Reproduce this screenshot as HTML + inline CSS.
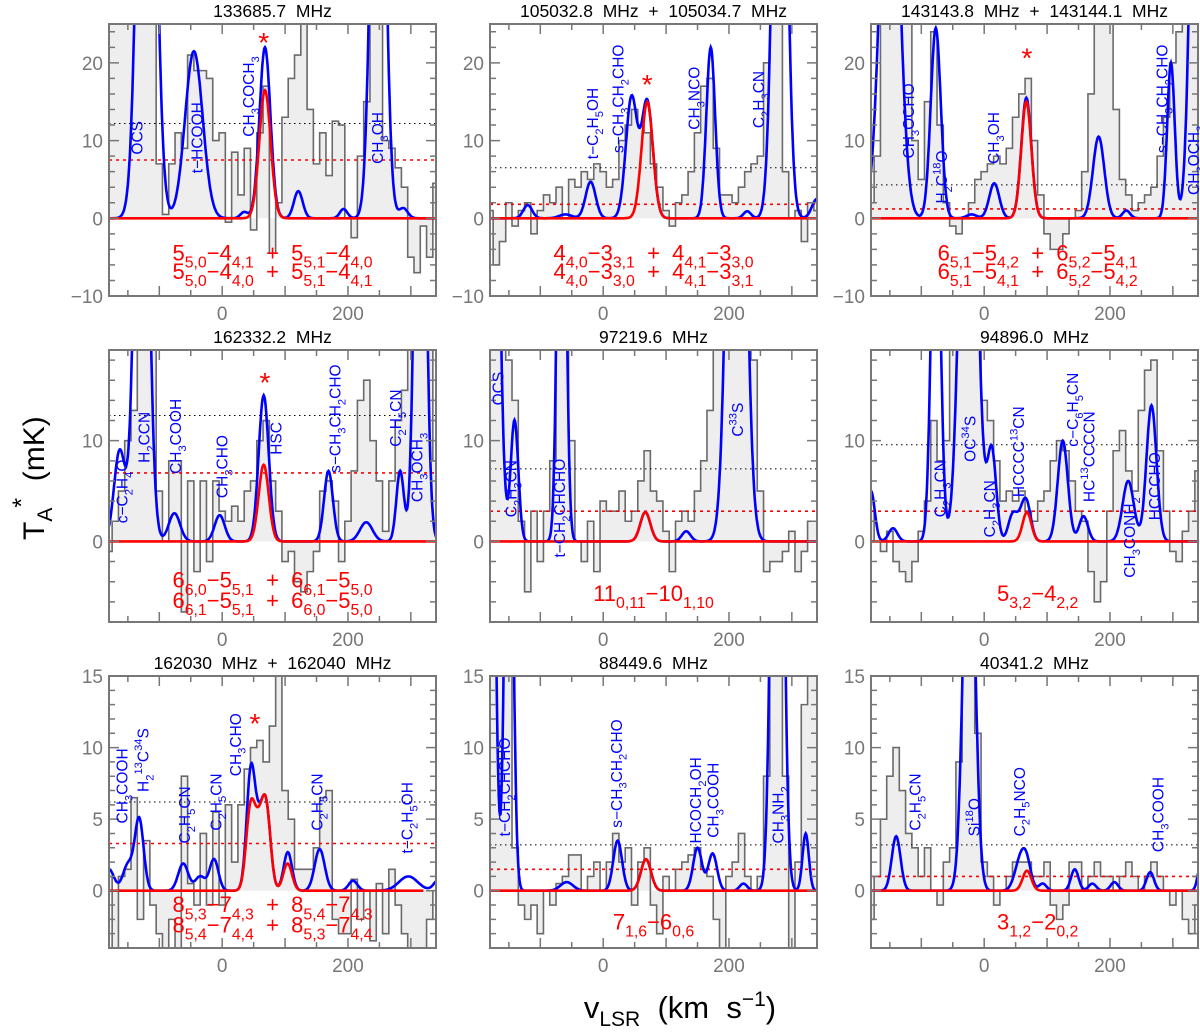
<!DOCTYPE html>
<html><head><meta charset="utf-8">
<style>
html,body{margin:0;padding:0;background:#fff;}
svg{display:block;font-family:"Liberation Sans",sans-serif;}
svg text{white-space:pre;}
</style></head>
<body>
<svg id="fig" width="1200" height="1033" viewBox="0 0 1200 1033" xmlns="http://www.w3.org/2000/svg">
<text transform="rotate(-90 44 540)" x="44" y="540" font-size="30" fill="#000">T<tspan font-size="21" dy="8">A</tspan><tspan font-size="25" dy="-22">*</tspan><tspan dy="14">  (mK)</tspan></text>
<text x="680" y="1018" text-anchor="middle" font-size="31" fill="#000">v<tspan font-size="21" dy="8">LSR</tspan><tspan dy="-8">  (km  s</tspan><tspan font-size="21" dy="-12">−1</tspan><tspan dy="12">)</tspan></text>
</svg>
<script>
// ---------- data ----------
const titles = ["133685.7  MHz","105032.8  MHz  +  105034.7  MHz","143143.8  MHz  +  143144.1  MHz","162332.2  MHz","97219.6  MHz","94896.0  MHz","162030  MHz  +  162040  MHz","88449.6  MHz","40341.2  MHz"];
const histStart = -180;
const histStep = 10;
const hist1 = [30,30,30,30,30,30,30,30,7,0.5,7,11,9,21,19,19,18,10,11,-0.5,8.5,3,9,-1.5,11,17,-4.5,2,13,18,21,25,14,7,11,5.5,12.5,12,0,-2.5,8,15,27,27,10,9,6.5,4,-5,-7,-1,-5,4.5];
const hist2 = [1,-6,-3,2,-1,1,2,-2,1,3,2,4,0,5,4,6,5,7,6,4,5,10,12,14,12,11,7,4,1,-1,2,3,6,11,17,18,9,3,3,2,4,6,7,8,20,30,30,6,0,1,-3,2,1];
const hist3 = [2,8,25,30,30,30,28,10,5,15,24,12,2,-1,-2,0,2,5,6,7,8,7,9,13,16,18,10,3,-2,-4,-4,-2,0,1,6,16,30,30,30,14,5,3,1,2,3,4,8,13,20,24,30,30,30];
const hist4 = [-1,2,5,10,13,30,30,20,5,0,8,8,-7,6,-3,6,-2,6,3,2,3.5,2,5,6,10,12,6,3,-2,-1,-4,-5,-3,-1,5,6,4,-2,2,7,14,16,10,6,1,6,12,15,30,30,30,20,8];
const hist5 = [19,19,19,18,14,2,-5,3,-2,3,8,19,19,10,0,-2,2,-3,4,3,3,5,2,3,6,9,5,4,1,-3,2,3,2,5,8,13,19,19,19,19,19,19,18,5,-3,-2,-2,-1,1,-3,-1,2,2];
const hist6 = [3,0,-1,1,-2,-3,-4,-2,1,4,12,8,10,19,19,19,19,19,14,12,8,4,5,4,5,3,2,4,5,8,10,9,6,3,2,-3,-6,-4,3,9,11,7,5,13,17,18,9,3,-1,-2,1,3,7];
const hist7 = [1,-4,1,1.5,6.5,-2,3.5,-1,-3,-4,-2,-4,8,0.5,-1,4,-1,5.5,-1,6,2,6,8.5,10,10.5,9,11.5,15,7,5,1.5,1.5,1.5,3,6.5,7,-2,-3,-3,0.8,-2,0,-3.5,0.5,-3,1.5,-1,-3,-4,-4,-4,-2,0];
const hist8 = [15,15,15,15,3,-1,-2,-1,-3,0,-1,0.5,1,2.5,2.5,0,1,2,0,2,4,2,3,-1,2,3,-1,-3,1,0,1.5,2,2.5,3,1.5,1,-2,-4,1,2,4,1,0,1,8,15,15,8,-4,2,13,15,15];
const hist9 = [-2,1,5,8,10,7,4,3,1,3,0,-1,2,3,9,15,15,11,2,1,-1,0,1,2,2,2,1,1,2,-1,-2,-1,2,2,0,1,2,1,1,0,1,2,1,0,1,2,1,0,-1,0,-2,-3,-1];
// Gaussian components [centre km/s, peak mK, sigma km/s]
const red1 = [[68,16.5,9]];
const red2 = [[70,15,9]];
const red3 = [[67,15,8]];
const red4 = [[66,7.6,8]];
const red5 = [[67,2.9,8]];
const red6 = [[68,2.9,7]];
const red7 = [[45,5.6,7],[58,3.6,7],[70,5.6,7],[104,1.9,7]];
const red8 = [[68,2.2,8]];
const red9 = [[68,1.4,7]];
const blue1 = [[-120,100,12],[-45,21.5,14],[35,0.8,6],[68,5.5,8],[121,3.5,7],[193,1.2,6],[248,80,10],[288,1.3,7]];
const blue2 = [[-120,1.7,7],[-60,0.5,10],[-20,4.7,8],[45,15.5,9],[171,22,7],[229,0.9,6],[281,80,10],[340,2.5,8]];
const blue3 = [[-150,60,14],[-77,24.5,8],[-20,0.5,8],[16,4.5,8],[67,0.5,8],[182,10.5,9],[226,1,6],[297,20,6],[340,80,10]];
const blue4 = [[-163,9,9],[-128,60,10],[-76,2.8,9],[-4,2.6,8],[66,6.9,8],[169,7,7],[229,1.9,10],[283,7,6],[315,60,8]];
const blue5 = [[-180,100,10],[-141,12,6],[-66,60,6],[132,1,7],[212,80,12]];
const blue6 = [[-180,5,6],[-145,1.3,7],[-77,40,7],[-25,60,12],[12,9,7],[45,2.5,7],[60,2,8],[125,10,8],[158,2.5,7],[229,6,9],[266,13.5,8]];
const blue7 = [[-180,1.5,8],[-150,1.8,8],[-132,5,7],[-62,1.9,8],[-35,1,8],[-13,2.2,7],[46,2.5,6],[105,0.8,6],[155,2.9,8],[208,0.7,7],[296,1,15],[345,0.8,8]];
const blue8 = [[-178,40,6],[-150,40,6],[-58,0.6,10],[23,3.5,7],[150,3,7],[174,2.6,7],[223,0.5,6],[277,60,8],[322,4,5]];
const blue9 = [[-140,3.8,7],[-24,30,9],[58,2.2,9],[93,0.5,6],[144,1.5,6],[172,0.5,6],[207,0.6,6],[264,1.3,6],[345,2,5]];
// threshold levels [black dotted, red dotted]
const levels = [[12.2,7.5],[6.5,1.8],[4.3,1.2],[12.5,6.8],[7.2,3.0],[9.6,3.0],[6.2,3.3],[3.2,1.5],[3.2,1.0]];
// star markers [v, T] (null = none)
const stars = [[66,23.2],[70,17.8],[68,21.2],[68,16.2],null,null,[52,12.0],null,null];
// species labels [v, T at label start, text]
const species1 = [[-136,8.2,"OCS"],[-41,5.8,"t−HCOOH"],[41,10.5,"CH_{3}COCH_{3}"],[246,7,"CH_{3}OH"]];
const species2 = [[-18,7.6,"t−C_{2}H_{5}OH"],[23,8.4,"s−CH_{3}CH_{2}CHO"],[144,11.4,"CH_{3}NCO"],[246,11.6,"C_{2}H_{3}CN"]];
const species3 = [[-121,7.7,"CH_{3}OCHO"],[-69,1.9,"H_{2}C^{18}O"],[14,7,"CH_{3}OH"],[282,8.4,"s−CH_{3}CH_{2}CHO"],[332,3,"CH_{3}OCH_{3}"]];
const species4 = [[-160,1.8,"c−C_{2}H_{4}O"],[-125,7.8,"H_{2}CCN"],[-75,6.7,"CH_{3}COOH"],[-1,4.3,"CH_{3}CHO"],[85,8.6,"HSC"],[179,6.8,"s−CH_{3}CH_{2}CHO"],[275,9.4,"C_{2}H_{5}CN"],[309,3.9,"CH_{3}OCH_{3}"]];
const species5 = [[-168,13.5,"OCS"],[-147,2.4,"C_{2}H_{3}CN"],[-70,-1.6,"t−CH_{2}CHCHO"],[213,10.4,"C^{33}S"]];
const species6 = [[-71,2.4,"C_{2}H_{3}CN"],[-23,7.9,"OC^{34}S"],[8,0.4,"C_{2}H_{3}CN"],[54,4.4,"HCCCC^{13}CN"],[140,9.4,"c−C_{6}H_{5}CN"],[166,3.9,"HC^{13}CCCCN"],[230,-3.6,"CH_{3}CONH_{2}"],[270,2.1,"HCCCHO"]];
const species7 = [[-160,4.7,"CH_{3}COOH"],[-127,6.9,"H_{2}^{13}C^{34}S"],[-61,3.3,"C_{2}H_{5}CN"],[-11,4.2,"C_{2}H_{5}CN"],[20,8,"CH_{3}CHO"],[150,4.2,"C_{2}H_{5}CN"],[293,2.6,"t−C_{2}H_{5}OH"]];
const species8 = [[-158,3.8,"t−CH_{2}CHCHO"],[20,4.4,"s−CH_{3}CH_{2}CHO"],[146,3.3,"HCOCH_{2}OH"],[174,3.7,"CH_{3}COOH"],[277,3.3,"CH_{3}NH_{2}"]];
const species9 = [[-111,4.2,"C_{2}H_{5}CN"],[-17,3.8,"Si^{18}O"],[55,3.8,"C_{2}H_{5}NCO"],[276,2.7,"CH_{3}COOH"]];
// transition labels [v centre, T baseline, text]
const trans1 = [[80,-5.4,"5_{5,0}−4_{4,1}  +  5_{5,1}−4_{4,0}"],[80,-7.8,"5_{5,0}−4_{4,0}  +  5_{5,1}−4_{4,1}"]];
const trans2 = [[80,-5.4,"4_{4,0}−3_{3,1}  +  4_{4,1}−3_{3,0}"],[80,-7.8,"4_{4,0}−3_{3,0}  +  4_{4,1}−3_{3,1}"]];
const trans3 = [[85,-5.4,"6_{5,1}−5_{4,2}  +  6_{5,2}−5_{4,1}"],[85,-7.8,"6_{5,1}−5_{4,1}  +  6_{5,2}−5_{4,2}"]];
const trans4 = [[80,-4.6,"6_{6,0}−5_{5,1}  +  6_{6,1}−5_{5,0}"],[80,-6.6,"6_{6,1}−5_{5,1}  +  6_{6,0}−5_{5,0}"]];
const trans5 = [[80,-5.9,"11_{0,11}−10_{1,10}"]];
const trans6 = [[85,-5.9,"5_{3,2}−4_{2,2}"]];
const trans7 = [[80,-1.5,"8_{5,3}−7_{4,3}  +  8_{5,4}−7_{4,3}"],[80,-2.9,"8_{5,4}−7_{4,4}  +  8_{5,3}−7_{4,4}"]];
const trans8 = [[80,-2.7,"7_{1,6}−6_{0,6}"]];
const trans9 = [[85,-2.7,"3_{1,2}−2_{0,2}"]];

const hists=[hist1,hist2,hist3,hist4,hist5,hist6,hist7,hist8,hist9];
const reds=[red1,red2,red3,red4,red5,red6,red7,red8,red9];
const blues=[blue1,blue2,blue3,blue4,blue5,blue6,blue7,blue8,blue9];
const species=[species1,species2,species3,species4,species5,species6,species7,species8,species9];
const trans=[trans1,trans2,trans3,trans4,trans5,trans6,trans7,trans8,trans9];

// ---------- layout ----------
const NS="http://www.w3.org/2000/svg";
const svg=document.getElementById('fig');
const colX=[109,490,871], rowY=[24,350,676], PW=327, PH=272;
const xMin=-180, xMax=340;
const yRanges=[[-10,25],[-8,19],[-4,15]];
const yTicks=[{lab:[-10,0,10,20],minor:2,major:10},{lab:[0,10],minor:2,major:10},{lab:[0,5,10,15],minor:1,major:5}];

function el(tag,attrs,parent){const e=document.createElementNS(NS,tag);for(const k in attrs)e.setAttribute(k,attrs[k]);(parent||svg).appendChild(e);return e;}
function gauss(list,v){let s=0;for(const g of list)s+=g[1]*Math.exp(-((v-g[0])**2)/(2*g[2]*g[2]));return s;}
function richText(t,parent,baseSize){
  const re=/([_^])\{([^}]*)\}|([^_^]+)/g;let m;let shift=0;
  while((m=re.exec(t))){
    const ts=document.createElementNS(NS,'tspan');
    if(m[3]!==undefined){ts.textContent=m[3];ts.setAttribute('dy',-shift);shift=0;}
    else{const d=m[1]==='_'?baseSize*0.32:-baseSize*0.42;ts.textContent=m[2];ts.setAttribute('font-size',baseSize*0.72);ts.setAttribute('dy',d-shift);shift=d;}
    parent.appendChild(ts);
  }
}

for(let p=0;p<9;p++){
  const r=Math.floor(p/3),c=p%3;
  const L=colX[c],T=rowY[r],B=T+PH,R=L+PW;
  const [y0,y1]=yRanges[r];
  const sx=v=>L+(v-xMin)/(xMax-xMin)*PW;
  const sy=t=>B-(t-y0)/(y1-y0)*PH;
  const g=el('g',{});
  
  
  const cp=el('clipPath',{id:'cp'+p},g);el('rect',{x:L,y:T,width:PW,height:PH},cp);
  const title=el('text',{x:L+PW/2,y:T-7,'text-anchor':'middle','font-size':17.5,fill:'#000'},g);
  
  
  title.textContent=titles[p];
  const plot=el('g',{'clip-path':'url(#cp'+p+')'},g);
  // histogram
  const h=hists[p];let d='M'+sx(histStart-histStep/2)+','+sy(0);let ds='';
  h.forEach((val,i)=>{const v=histStart+i*histStep;const xa=sx(v-histStep/2),xb=sx(v+histStep/2),yy=sy(Math.max(y0-2,Math.min(y1+5,val)));
    d+=' L'+xa+','+yy+' L'+xb+','+yy; ds+=(i?' L':'M')+xa+','+yy+' L'+xb+','+yy;});
  d+=' L'+sx(histStart+(h.length-0.5)*histStep)+','+sy(0)+' Z';
  const hf=el('path',{d:d,fill:'#eeeeee',stroke:'none'},plot);
  
  
  const hs=el('path',{d:ds,fill:'none',stroke:'#6a6a6a','stroke-width':1.6},plot);
  
  
  // levels
  const lb=el('line',{x1:L,x2:R,y1:sy(levels[p][0]),y2:sy(levels[p][0]),stroke:'#000','stroke-width':1,'stroke-dasharray':'1.5,3.5'},plot);
  
  
  const lr=el('line',{x1:L,x2:R,y1:sy(levels[p][1]),y2:sy(levels[p][1]),stroke:'#ff0000','stroke-width':1.6,'stroke-dasharray':'3,4'},plot);
  
  
  // models
  let db='',dr='';
  const vEnd = p===6?320:xMax;
  for(let v=xMin;v<=xMax;v+=1){const tb=gauss(blues[p],v)+gauss(reds[p],v);db+=(v===xMin?'M':' L')+sx(v).toFixed(1)+','+sy(Math.min(tb,y1+10)).toFixed(1);
    if(v<=vEnd){dr+=(v===xMin?'M':' L')+sx(v).toFixed(1)+','+sy(gauss(reds[p],v)).toFixed(1);}}
  const bl=el('path',{d:db,fill:'none',stroke:'#0000ff','stroke-width':2.6},plot);
  
  
  const rl=el('path',{d:dr,fill:'none',stroke:'#ff0000','stroke-width':2.6},plot);
  
  
  // frame
  const fr=el('rect',{x:L,y:T,width:PW,height:PH,fill:'none',stroke:'#777','stroke-width':2},g);
  
  
  // ticks
  let tk='';
  for(let v=-150;v<=xMax;v+=50){const x=sx(v);const len=(v%100===0)?10:6;tk+='M'+x+','+B+' v'+(-len)+' M'+x+','+T+' v'+len+' ';}
  const yt=yTicks[r];
  for(let t=Math.ceil(y0/yt.minor)*yt.minor;t<=y1;t+=yt.minor){if(t===y0)continue;const y=sy(t);const len=(t%yt.major===0)?10:6;tk+='M'+L+','+y+' h'+len+' M'+R+','+y+' h'+(-len)+' ';}
  el('path',{d:tk,stroke:'#777','stroke-width':1.5,fill:'none'},g);
  [0,200].forEach(v=>{const t=el('text',{x:sx(v),y:B+24,'text-anchor':'middle','font-size':19,fill:'#777'},g);
    
    
    t.textContent=v;});
  yt.lab.forEach(v=>{const t=el('text',{x:L-6,y:sy(v)+7,'text-anchor':'end','font-size':19,fill:'#777'},g);
    
    
    t.textContent=v<0?'−'+(-v):v;});
  // species labels
  species[p].forEach(s=>{const x=sx(s[0])+6,y=sy(s[1]);
    const t=el('text',{x:x,y:y,transform:'rotate(-90 '+x+' '+y+')','font-size':15.5,fill:'#0000ff'},g);
    
    
    richText(s[2],t,15.5);});
  // star
  if(stars[p]){const t=el('text',{x:sx(stars[p][0]),y:sy(stars[p][1])+14,'text-anchor':'middle','font-size':28,fill:'#ff0000'},g);
    
    
    t.textContent='*';}
  // transitions
  trans[p].forEach(s=>{const t=el('text',{x:sx(s[0]),y:sy(s[1]),'text-anchor':'middle','font-size':22,fill:'#ff0000'},g);
    
    
    richText(s[2],t,22);});
}
</script>
</body></html>
